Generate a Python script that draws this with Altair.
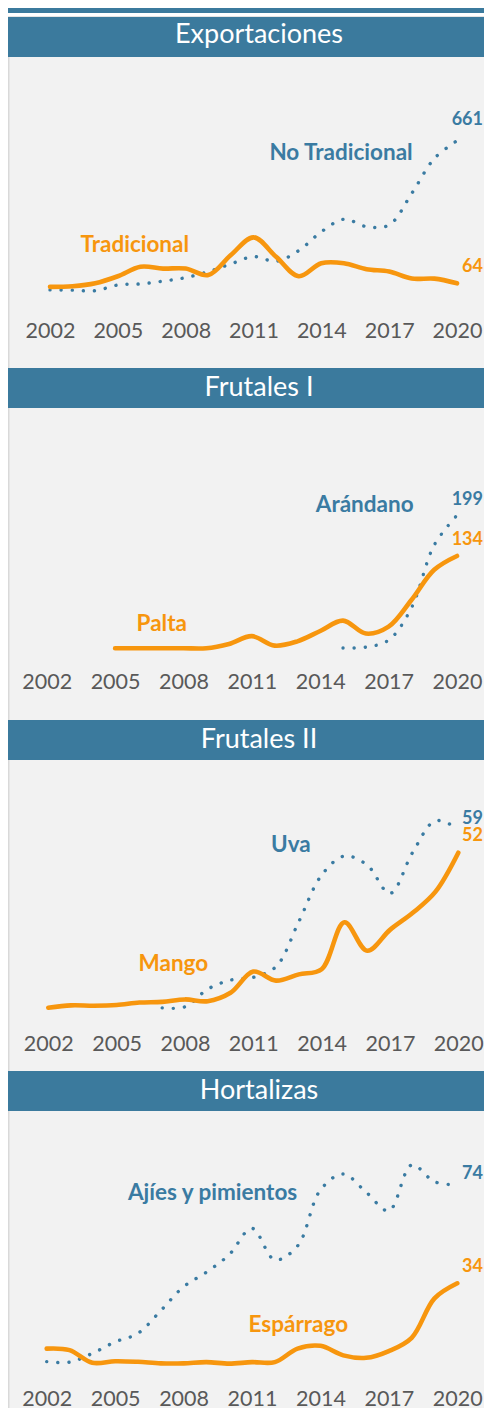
import altair as alt
import pandas as pd

# ---------------- data ----------------
years = list(range(2002, 2021))
tick_years = [2002, 2005, 2008, 2011, 2014, 2017, 2020]

# Exportaciones
tradicional = [58, 59, 64, 76, 92, 89, 89, 78, 112, 142, 109, 76, 98, 98, 88, 84, 72, 72, 64]
no_tradicional = [114, 113, 111, 132, 136, 146, 159, 181, 209, 236, 219, 258, 327, 373, 346, 352, 468, 596, 661]
# Frutales I
palta = [None, None, None, 27, 27, 27, 27, 27, 32, 41, 30, 35, 47, 59, 44, 52, 83, 118, 134]
arandano = [None] * 13 + [30, 31, 40, 81, 161, 199]
# Frutales II
mango = [7.4, 8.1, 8.0, 8.2, 8.9, 9.1, 9.8, 9.3, 11.7, 17.8, 15.2, 17.0, 18.5, 32.0, 23.8, 29.8, 34.7, 40.8, 52]
uva = [None] * 5 + [7.4, 7.7, 12.8, 15.4, 16.2, 19.3, 32.3, 45.7, 51.2, 48.6, 40.4, 52.3, 61.4, 59]
# Hortalizas
esparrago = [12.8, 12.3, 8.2, 8.7, 8.5, 8.0, 8.0, 8.4, 7.9, 8.4, 8.4, 12.8, 13.7, 10.6, 9.8, 12.0, 16.3, 29.1, 34]
ajies = [9.6, 9.4, 12.6, 16.8, 19.9, 28.2, 36.9, 42.2, 48.6, 58.2, 46.7, 51.8, 72.2, 78.0, 71.4, 64.6, 81.3, 75.2, 74]

panel_titles = ["Exportaciones", "Frutales I", "Frutales II", "Hortalizas"]

# ---------------- styles ----------------
BLUE_HEAD = "#3B7A9D"
BLUE = "#3A7BA2"
ORANGE = "#F7960E"
BG = "#F2F2F2"
AXIS_GRAY = "#595959"
FONT = "Lato"
W = 476

# per-panel layout: view height, x range, axis offset, header baseline
layout = [
    dict(h=311, xr=[42, 449], off=-30.7, hb=25.5),
    dict(h=312, xr=[38.7, 449], off=-31.7, hb=28),
    dict(h=311, xr=[40.3, 450.3], off=-21, hb=28),
    dict(h=297, xr=[38.7, 449.3], off=-3, hb=28),
]

# per-series scale (domain max, zero position in view) and annotation anchors
series_specs = [
    [
        dict(name="No Tradicional", vals=no_tradicional, color=BLUE, dotted=True, dmax=967.9, z=264, dy=-15.8, anchor=(2014.87, 590)),
        dict(name="Tradicional", vals=tradicional, color=ORANGE, dotted=False, dmax=448.2, z=264, dy=-11.2, anchor=(2005.75, 117)),
    ],
    [
        dict(name="Arándano", vals=arandano, color=BLUE, dotted=True, dmax=335.7, z=263.5, dy=-10, anchor=(2015.95, 203.6)),
        dict(name="Palta", vals=palta, color=ORANGE, dotted=False, dmax=305.7, z=263.5, dy=-11.4, anchor=(2007.05, 47.3)),
    ],
    [
        dict(name="Uva", vals=uva, color=BLUE, dotted=True, dmax=78.91, z=273.5, dy=-5.5, anchor=(2012.65, 52.4)),
        dict(name="Mango", vals=mango, color=ORANGE, dotted=False, dmax=78.66, z=273.5, dy=-11.6, anchor=(2007.49, 18.1)),
    ],
    [
        dict(name="Ajíes y pimientos", vals=ajies, color=BLUE, dotted=True, dmax=100.97, z=277, dy=-5.9, anchor=(2009.27, 68.5)),
        dict(name="Espárrago", vals=esparrago, color=ORANGE, dotted=False, dmax=89.95, z=277, dy=-11, anchor=(2013.03, 18.3)),
    ],
]


def xaxis(offset):
    return alt.Axis(values=tick_years, format="d", title=None, domain=False, ticks=False,
                    tickSize=0, grid=False, labelFont=FONT, labelFontSize=21.5,
                    labelColor=AXIS_GRAY, labelPadding=0, labelBaseline="alphabetic",
                    offset=offset, labelFlush=False, labelOverlap=False)


def series_layer(spec, lay):
    df = pd.DataFrame({"year": years, "value": spec["vals"]}).dropna()
    xenc = alt.X("year:Q", scale=alt.Scale(domain=[2002, 2020], range=lay["xr"], nice=False, zero=False),
                 axis=xaxis(lay["off"]))
    yenc = alt.Y("value:Q", scale=alt.Scale(domain=[0, spec["dmax"]], range=[spec["z"], 0], nice=False, zero=False),
                 axis=None)
    kw = dict(color=spec["color"], interpolate="catmull-rom", strokeCap="round", strokeJoin="round")
    if spec["dotted"]:
        kw.update(strokeWidth=3.4, strokeDash=[0.1, 11])
    else:
        kw.update(strokeWidth=4.6)
    line = alt.Chart(df).mark_line(**kw).encode(x=xenc, y=yenc)
    end = alt.Chart(df).transform_filter(alt.datum.year == 2020).mark_text(
        align="right", baseline="alphabetic", dx=W - 1 - lay["xr"][1], dy=spec["dy"], font=FONT,
        fontWeight="bold", fontSize=18, color=spec["color"]
    ).encode(x=xenc, y=yenc, text=alt.Text("value:Q", format=".0f"))
    ann = pd.DataFrame({"year": [spec["anchor"][0]], "value": [spec["anchor"][1]], "label": [spec["name"]]})
    name = alt.Chart(ann).mark_text(
        align="center", baseline="alphabetic", font=FONT, fontWeight="bold", fontSize=22.5,
        color=spec["color"]
    ).encode(x=xenc, y=yenc, text="label:N")
    return alt.layer(line, end, name)


def band(h, fill):
    return alt.Chart(pd.DataFrame({"a": [0]})).mark_rect(color=fill).encode(
        x=alt.value(0), x2=alt.value(W), y=alt.value(0), y2=alt.value(h)
    ).properties(width=W, height=h, view=alt.ViewBackground(fill=fill, stroke=None))


def header(title, base_y):
    return alt.Chart(pd.DataFrame({"t": [title]})).mark_text(
        font=FONT, fontSize=27, color="white", align="center", baseline="alphabetic"
    ).encode(text="t:N", x=alt.value(251), y=alt.value(base_y)).properties(
        width=W, height=40, view=alt.ViewBackground(fill=BLUE_HEAD, stroke=None))


def panel(i):
    lay = layout[i]
    layers = [series_layer(s, lay) for s in series_specs[i]]
    border = alt.Chart(pd.DataFrame({"a": [0]})).mark_rule(color="#D9D9D9", strokeWidth=1.5).encode(
        x=alt.value(0.75), y=alt.value(0), y2=alt.value(lay["h"]))
    return alt.layer(*layers, border).resolve_scale(y="independent").properties(
        width=W, height=lay["h"], view=alt.ViewBackground(fill=BG, stroke=None))


parts = [band(5, BLUE_HEAD), band(3, "white"), band(1, "#E4E4E4")]
for i, t in enumerate(panel_titles):
    parts.append(header(t, layout[i]["hb"]))
    parts.append(panel(i))

chart = alt.vconcat(*parts, spacing=0, bounds="flush").properties(
    padding=0, background="white").configure_view(stroke=None)

chart.save("out.html", embed_options={"renderer": "svg", "actions": False})
